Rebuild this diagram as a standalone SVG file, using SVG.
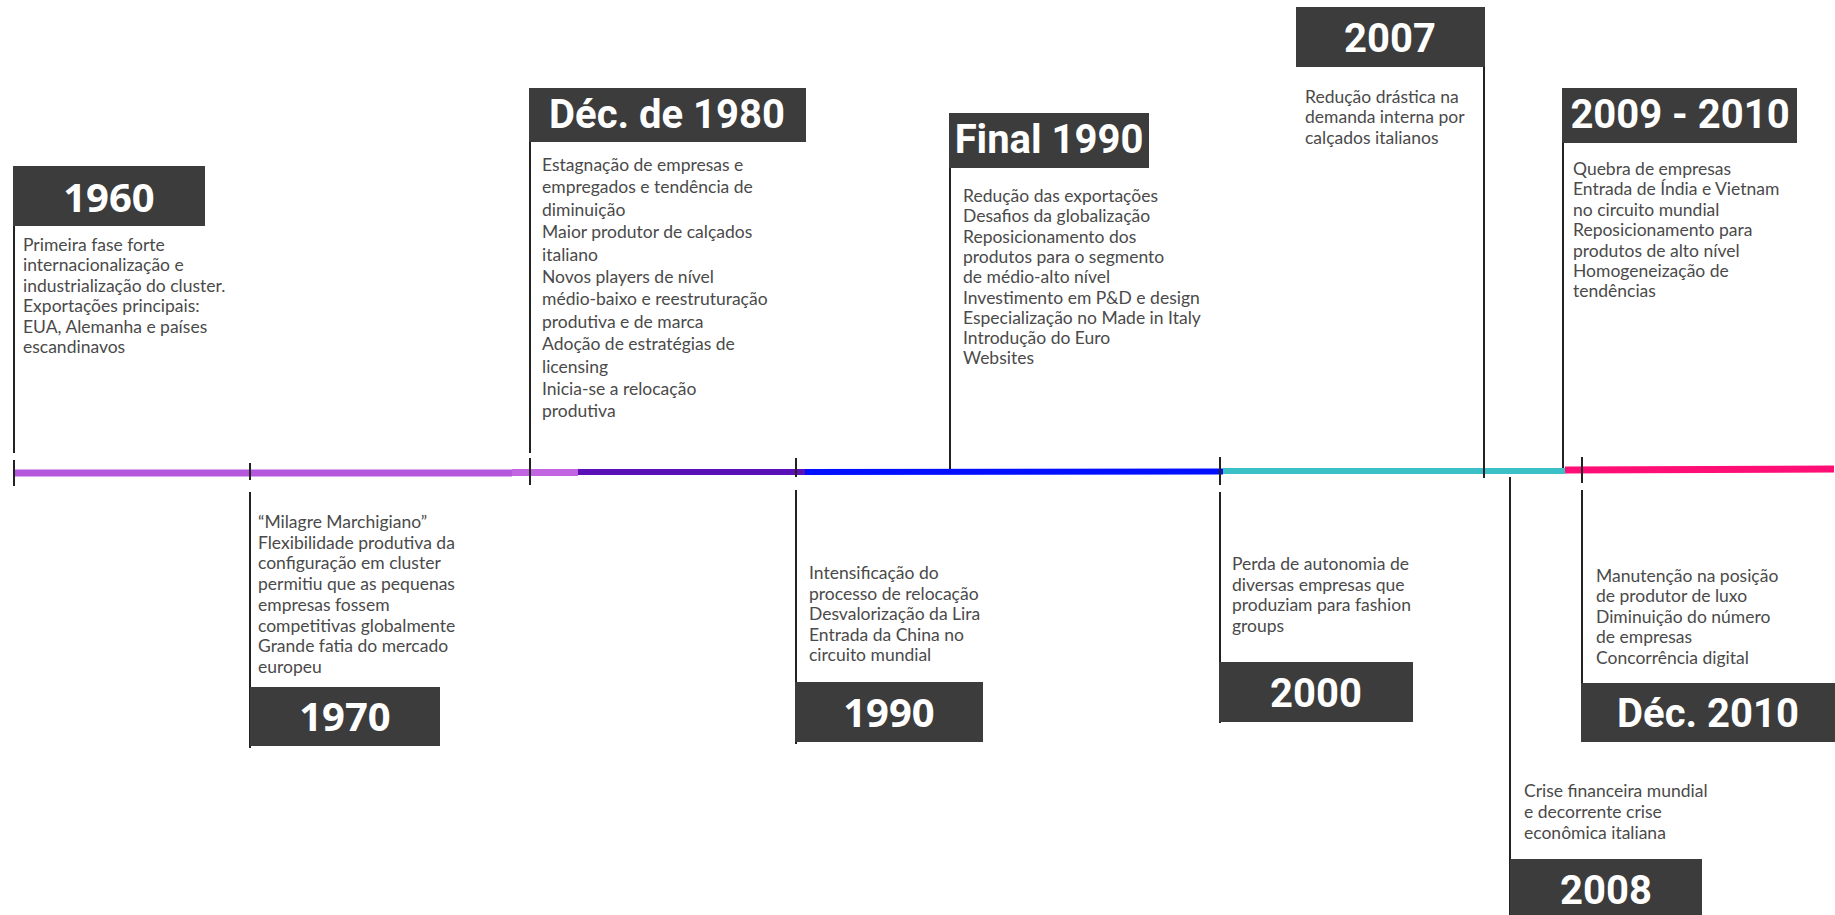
<svg xmlns="http://www.w3.org/2000/svg" width="1835" height="915" viewBox="0 0 1835 915">
<style>
.box{fill:#3c3c3c}
.vl{stroke:#222;stroke-width:2;fill:none}
.t{font-family:Roboto,"Liberation Sans",sans-serif;font-weight:700;font-size:40px;fill:#fff;text-anchor:middle}
.to{font-family:"Open Sans","Liberation Sans",sans-serif;font-weight:700;font-size:40px;fill:#fff;text-anchor:middle}
.d{font-family:Lato,"Liberation Sans",sans-serif;font-size:17.5px;fill:#4a4a4a}
.d2{font-family:Lato,"Liberation Sans",sans-serif;font-size:17.5px;fill:#4a4a4a}
</style>
<rect width="1835" height="915" fill="#fff"/>
<g id="connectors">
<line x1="13" y1="473" x2="512" y2="473" stroke="#b457dc" stroke-width="7"/>
<line x1="512" y1="472.5" x2="578" y2="472.5" stroke="#c265e0" stroke-width="7"/>
<line x1="578" y1="472" x2="805" y2="472" stroke="#5b0fb8" stroke-width="6"/>
<line x1="805" y1="472" x2="1223" y2="471.5" stroke="#0010ff" stroke-width="6"/>
<line x1="1223" y1="471" x2="1565" y2="471" stroke="#3cc0c8" stroke-width="6"/>
<line x1="1565" y1="470" x2="1834" y2="469" stroke="#ff0f75" stroke-width="7"/>
<path class="vl" d="M14 460V486M250 463V480M530 458V485M796 458V477M1220 457V485M1582 457V483"/>
</g>
<g id="n1960">
<line class="vl" x1="14" y1="166" x2="14" y2="453"/>
<rect class="box" x="13" y="166" width="192" height="60"/>
<text class="to" x="109" y="212" font-size="42">1960</text>
<text class="d" x="23" y="251"><tspan x="23">Primeira fase forte</tspan><tspan x="23" dy="20.4">internacionalização e</tspan><tspan x="23" dy="20.4">industrialização do cluster.</tspan><tspan x="23" dy="20.4">Exportações principais:</tspan><tspan x="23" dy="20.4">EUA, Alemanha e países</tspan><tspan x="23" dy="20.4">escandinavos</tspan></text>
</g>
<g id="n1970">
<line class="vl" x1="250" y1="492" x2="250" y2="748"/>
<rect class="box" x="250" y="687" width="190" height="59"/>
<text class="to" x="345" y="731" font-size="41">1970</text>
<text class="d" x="258" y="528"><tspan x="258">“Milagre Marchigiano”</tspan><tspan x="258" dy="20.7">Flexibilidade produtiva da</tspan><tspan x="258" dy="20.7">configuração em cluster</tspan><tspan x="258" dy="20.7">permitiu que as pequenas</tspan><tspan x="258" dy="20.7">empresas fossem</tspan><tspan x="258" dy="20.7">competitivas globalmente</tspan><tspan x="258" dy="20.7">Grande fatia do mercado</tspan><tspan x="258" dy="20.7">europeu</tspan></text>
</g>
<g id="n1980">
<line class="vl" x1="530" y1="88" x2="530" y2="453"/>
<rect class="box" x="529" y="88" width="277" height="54"/>
<text class="t" x="667" y="128" font-size="38">Déc. de 1980</text>
<text class="d2" x="542" y="171"><tspan x="542">Estagnação de empresas e</tspan><tspan x="542" dy="22.4">empregados e tendência de</tspan><tspan x="542" dy="22.4">diminuição</tspan><tspan x="542" dy="22.4">Maior produtor de calçados</tspan><tspan x="542" dy="22.4">italiano</tspan><tspan x="542" dy="22.4">Novos players de nível</tspan><tspan x="542" dy="22.4">médio-baixo e reestruturação</tspan><tspan x="542" dy="22.4">produtiva e de marca</tspan><tspan x="542" dy="22.4">Adoção de estratégias de</tspan><tspan x="542" dy="22.4">licensing</tspan><tspan x="542" dy="22.4">Inicia-se a relocação</tspan><tspan x="542" dy="22.4">produtiva</tspan></text>
</g>
<g id="n1990">
<line class="vl" x1="796" y1="490" x2="796" y2="744"/>
<rect class="box" x="795" y="682" width="188" height="60"/>
<text class="to" x="889" y="727" font-size="41">1990</text>
<text class="d" x="809" y="579"><tspan x="809">Intensificação do</tspan><tspan x="809" dy="20.5">processo de relocação</tspan><tspan x="809" dy="20.5">Desvalorização da Lira</tspan><tspan x="809" dy="20.5">Entrada da China no</tspan><tspan x="809" dy="20.5">circuito mundial</tspan></text>
</g>
<g id="nFinal1990">
<line class="vl" x1="950" y1="113" x2="950" y2="469"/>
<rect class="box" x="949" y="113" width="200" height="55"/>
<text class="t" x="1049" y="153" font-size="39">Final 1990</text>
<text class="d" x="963" y="202"><tspan x="963">Redução das exportações</tspan><tspan x="963" dy="20.3">Desafios da globalização</tspan><tspan x="963" dy="20.3">Reposicionamento dos</tspan><tspan x="963" dy="20.3">produtos para o segmento</tspan><tspan x="963" dy="20.3">de médio-alto nível</tspan><tspan x="963" dy="20.3">Investimento em P&amp;D e design</tspan><tspan x="963" dy="20.3">Especialização no Made in Italy</tspan><tspan x="963" dy="20.3">Introdução do Euro</tspan><tspan x="963" dy="20.3">Websites</tspan></text>
</g>
<g id="n2000">
<line class="vl" x1="1220" y1="492" x2="1220" y2="723"/>
<rect class="box" x="1219" y="662" width="194" height="60"/>
<text class="t" x="1316" y="707" font-size="42">2000</text>
<text class="d" x="1232" y="570"><tspan x="1232">Perda de autonomia de</tspan><tspan x="1232" dy="20.6">diversas empresas que</tspan><tspan x="1232" dy="20.6">produziam para fashion</tspan><tspan x="1232" dy="20.6">groups</tspan></text>
</g>
<g id="n2007">
<line class="vl" x1="1484" y1="7" x2="1484" y2="478"/>
<rect class="box" x="1296" y="7" width="189" height="60"/>
<text class="t" x="1390" y="52" font-size="42">2007</text>
<text class="d" x="1305" y="103"><tspan x="1305">Redução drástica na</tspan><tspan x="1305" dy="20.3">demanda interna por</tspan><tspan x="1305" dy="20.3">calçados italianos</tspan></text>
</g>
<g id="n2008">
<line class="vl" x1="1510" y1="477" x2="1510" y2="915"/>
<rect class="box" x="1510" y="859" width="192" height="56"/>
<text class="t" x="1606" y="904" font-size="42">2008</text>
<text class="d" x="1524" y="797"><tspan x="1524">Crise financeira mundial</tspan><tspan x="1524" dy="20.8">e decorrente crise</tspan><tspan x="1524" dy="20.8">econômica italiana</tspan></text>
</g>
<g id="n2009">
<line class="vl" x1="1563" y1="88" x2="1563" y2="468"/>
<rect class="box" x="1562" y="88" width="235" height="55"/>
<text class="t" x="1680" y="128" font-size="39">2009 - 2010</text>
<text class="d" x="1573" y="175"><tspan x="1573">Quebra de empresas</tspan><tspan x="1573" dy="20.4">Entrada de Índia e Vietnam</tspan><tspan x="1573" dy="20.4">no circuito mundial</tspan><tspan x="1573" dy="20.4">Reposicionamento para</tspan><tspan x="1573" dy="20.4">produtos de alto nível</tspan><tspan x="1573" dy="20.4">Homogeneização de</tspan><tspan x="1573" dy="20.4">tendências</tspan></text>
</g>
<g id="n2010">
<line class="vl" x1="1582" y1="490" x2="1582" y2="742"/>
<rect class="box" x="1581" y="683" width="254" height="59"/>
<text class="t" x="1708" y="727" font-size="42">Déc. 2010</text>
<text class="d" x="1596" y="582"><tspan x="1596">Manutenção na posição</tspan><tspan x="1596" dy="20.4">de produtor de luxo</tspan><tspan x="1596" dy="20.4">Diminuição do número</tspan><tspan x="1596" dy="20.4">de empresas</tspan><tspan x="1596" dy="20.4">Concorrência digital</tspan></text>
</g>
</svg>
